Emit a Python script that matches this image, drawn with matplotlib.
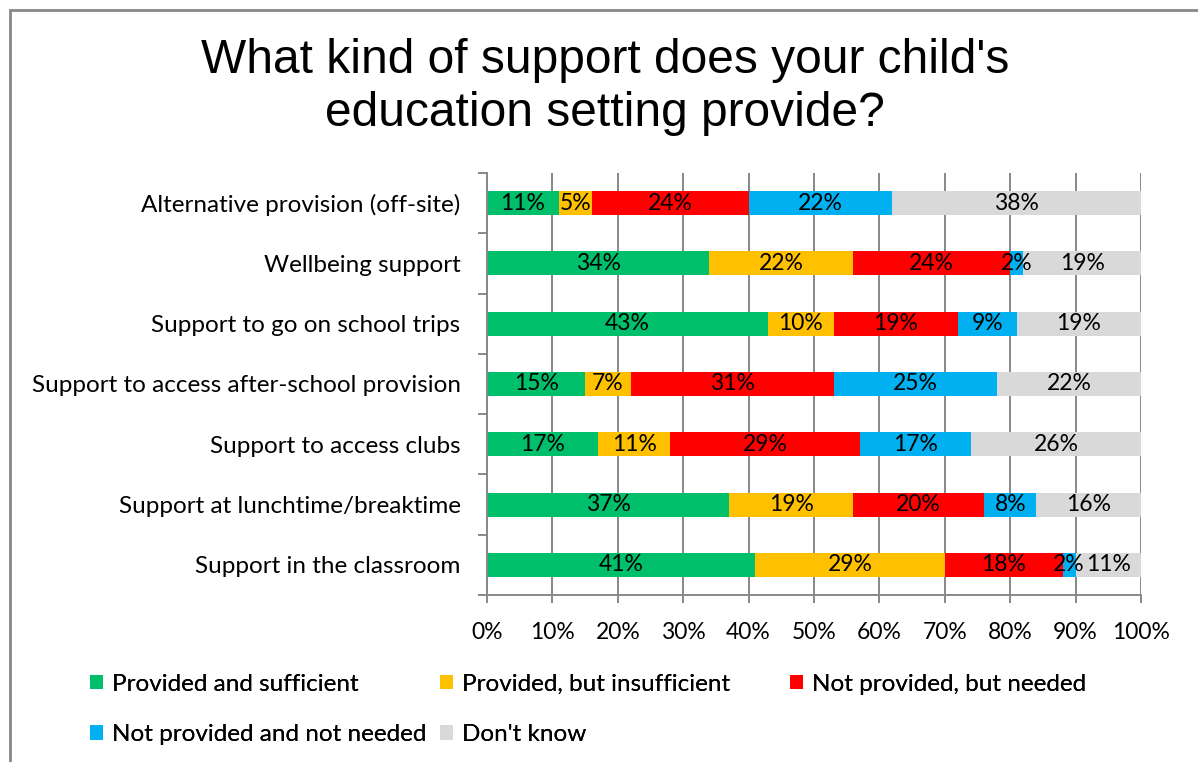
import matplotlib.pyplot as plt
import numpy as np
from matplotlib.patches import Rectangle, Patch
from matplotlib.ticker import MultipleLocator, PercentFormatter

# Категории (сверху вниз) и доли ответов по каждой группе, %
categories = [
    "Alternative provision (off-site)",
    "Wellbeing support",
    "Support to go on school trips",
    "Support to access after-school provision",
    "Support to access clubs",
    "Support at lunchtime/breaktime",
    "Support in the classroom",
]
series_names = [
    "Provided and sufficient",
    "Provided, but insufficient",
    "Not provided, but needed",
    "Not provided and not needed",
    "Don't know",
]
provided_sufficient = [11, 34, 43, 15, 17, 37, 41]
provided_insufficient = [5, 22, 10, 7, 11, 19, 29]
not_provided_needed = [24, 24, 19, 31, 29, 20, 18]
not_provided_not_needed = [22, 2, 9, 25, 17, 8, 2]
dont_know = [38, 19, 19, 22, 26, 16, 11]

colors = ["#00BF6B", "#FFC000", "#FF0000", "#00B0F0", "#D9D9D9"]
grid_col = "#888888"

plt.rcParams["font.family"] = ["Lato", "DejaVu Sans"]

fig = plt.figure(figsize=(11.98, 7.62), dpi=100)
ax = fig.add_axes([487 / 1198, 1 - 595 / 762, 654 / 1198, 422 / 762])

data = [provided_sufficient, provided_insufficient, not_provided_needed,
        not_provided_not_needed, dont_know]
y = np.arange(len(categories))
left = np.zeros(len(categories))
for name, vals, col in zip(series_names, data, colors):
    vals = np.array(vals, dtype=float)
    bars = ax.barh(y, vals, left=left, height=0.4, color=col, label=name)
    ax.bar_label(bars, labels=[f"{v:.0f}%" for v in vals], label_type="center",
                 fontsize=16.5, color="black")
    left += vals

ax.set_xlim(0, 100)
ax.set_ylim(len(categories) - 0.5, -0.5)
ax.xaxis.set_major_locator(MultipleLocator(10))
ax.xaxis.set_major_formatter(PercentFormatter(decimals=0))
ax.set_yticks(y)
ax.set_yticklabels(categories)
ax.set_yticks(np.arange(-0.5, len(categories)), minor=True)

ax.tick_params(axis="y", which="major", length=0, pad=19, labelsize=17.5)
ax.tick_params(axis="y", which="minor", length=6.5, width=1.4, color=grid_col,
               direction="out")
ax.tick_params(axis="x", length=6, width=1.4, color=grid_col, pad=13.5,
               labelsize=16.5)

ax.grid(axis="x", color=grid_col, linewidth=1.4)
ax.set_axisbelow(True)
for side in ["top", "right"]:
    ax.spines[side].set_visible(False)
for side in ["left", "bottom"]:
    ax.spines[side].set_color(grid_col)
    ax.spines[side].set_linewidth(1.4)

# Заголовок
fig.text(0.505, 1 - 87 / 762, "What kind of support does your child's\neducation setting provide?",
         ha="center", va="center", fontsize=34.5, family="Liberation Sans",
         linespacing=1.22)

# Легенда: три колонки с фиксированными позициями
handles = [Patch(facecolor=c) for c in colors]
columns = [[0, 3], [1, 4], [2]]
col_x = [80, 430, 780]
for idx, x0 in zip(columns, col_x):
    leg = fig.legend([handles[i] for i in idx], [series_names[i] for i in idx],
                     loc="upper left", bbox_to_anchor=(x0 / 1198, 1 - 664 / 762),
                     frameon=False, fontsize=17.5, handlelength=0.55,
                     handleheight=0.55, handletextpad=0.35, labelspacing=1.22,
                     borderaxespad=0)
    fig.add_artist(leg)

# Рамка области диаграммы
fig.add_artist(Rectangle((10 / 1198, -0.05), 1.1, 1 - 10 / 762 + 0.05,
                         transform=fig.transFigure, fill=False,
                         edgecolor="#878787", linewidth=2))

fig.savefig("out.png", dpi=100)
